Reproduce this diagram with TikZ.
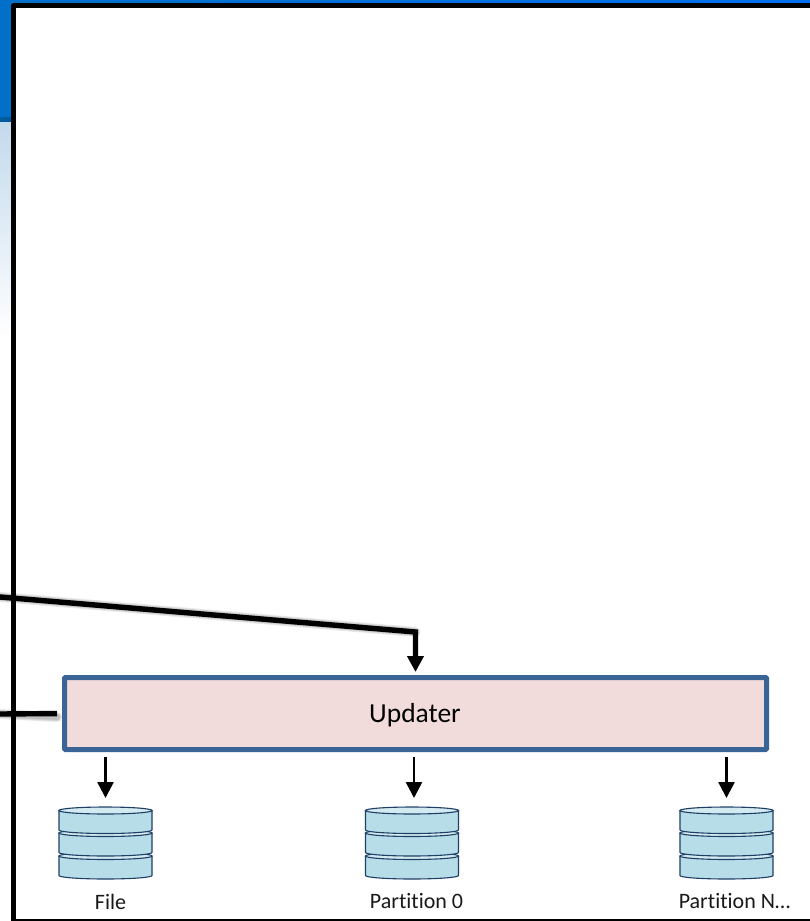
\documentclass[tikz,border=0pt]{standalone}
\usepackage{fontspec}
\setmainfont{Carlito}[RawFeature={-liga;-clig;-dlig}]
\usetikzlibrary{arrows.meta}
\definecolor{boxedge}{HTML}{3A6496}
\definecolor{boxfill}{HTML}{F2DCDB}
\definecolor{dbfill}{HTML}{B7DDE8}
\definecolor{dbtop}{HTML}{D3EAF0}
\definecolor{dbedge}{HTML}{1F3F66}
\definecolor{blueA}{HTML}{0070C8}
\definecolor{blueB}{HTML}{0070F0}
\definecolor{paleblue}{HTML}{C3DAEC}
\tikzset{
  x=1pt,y=-1pt,
  heavy/.style={draw=black,line width=5.4pt,line join=miter},
  shade1/.style={draw=black,draw opacity=.09,line cap=round,line join=round},
  thinarrow/.style={draw=black,line width=2.6pt,-{Triangle[length=16pt,width=16pt]},shorten <=5pt,shorten >=9pt},
  thickarrow/.style={heavy,-{Triangle[length=16pt,width=16pt]},shorten >=3pt},
  updaterbox/.style={draw=boxedge,fill=boxfill,line width=5pt,rounded corners=1pt,minimum width=702pt,minimum height=72pt,inner sep=0pt},
  updatertext/.style={inner sep=0pt,font=\fontsize{27.5}{30}\selectfont,text=black},
  dbanchor/.style={minimum width=93pt,minimum height=71pt,inner sep=0pt,outer sep=0pt},
  dblabel/.style={inner sep=0pt,font=\fontsize{22}{26}\selectfont,text=black!90},
  disc/.style={draw=dbedge,line width=1.1pt,fill=dbfill,line join=round},
  disctop/.style={draw=dbedge,line width=1.1pt,fill=dbtop},
  pics/database/.style={code={
    \foreach \t in {13.5,-9.5,-32}{
      \path[disc] (-46.5,\t) -- (-46.5,\t+19.5) arc[x radius=46.5,y radius=3.5,start angle=180,end angle=0] -- (46.5,\t) -- cycle;
      \path[disctop] (0,\t) ellipse[x radius=46.5,y radius=3.5];
    }
  }}
}
\begin{document}
\begin{tikzpicture}
\useasboundingbox (0,0) rectangle (810,921);
% backdrop
\fill[white] (0,0) rectangle (810,921);
\shade[left color=blueA,right color=blueB] (0,0) rectangle (810,4);
\fill[blueA] (0,0) rectangle (12,119);
\fill[blueA!80!black] (0,117) rectangle (12,122);
\shade[top color=paleblue,bottom color=white] (0,122) rectangle (12,340);
% frame
\fill[white] (13.5,5.5) rectangle (810,919.5);
\draw[black,line width=1.6pt] (16,919.7) -- (810,919.7);
\draw[black,line width=5pt,line join=round] (13.5,921) -- (13.5,5.5) -- (810,5.5);
% nodes
\node[updaterbox] (updater) at (415.5,713.5) {};
\node[updatertext] (updatertitle) at (415,715) {Updater};
\node[dbanchor] (dbfile) at (105.5,842.5) {};
\node[dbanchor] (dbzero) at (412,842.5) {};
\node[dbanchor] (dbn) at (726.5,842.5) {};
\pic at (dbfile.center) {database};
\pic at (dbzero.center) {database};
\pic at (dbn.center) {database};
\node[dblabel] (lfile) at (110.5,902) {File};
\node[dblabel] (lzero) at (416.5,901) {Partition 0};
\node[dblabel] (ln) at (734.5,901) {Partition N…};
% free ends
\coordinate (inA) at (0,597);
\coordinate (bend) at (updater.north |- 0,632);
\coordinate (inB) at (0,714);
\coordinate (zerotop) at (414,807);
% soft shadows
\foreach \w in {10,8,6}{
  \draw[shade1,line width=\w pt,yshift=-3pt] (inA) -- (bend);
  \draw[shade1,line width=\w pt,yshift=-3pt] (inB) -- (57,714);
}
% connectors
\draw[thickarrow] (inA) -- (bend) -- (updater.north);
\draw[heavy,shorten >=5pt] (inB) -- (updater.west);
\draw[thinarrow] (updater.south -| dbfile.north) -- (dbfile.north);
\draw[thinarrow] (updater.south -| zerotop) -- (zerotop);
\draw[thinarrow] (updater.south -| dbn.north) -- (dbn.north);
\end{tikzpicture}
\end{document}
